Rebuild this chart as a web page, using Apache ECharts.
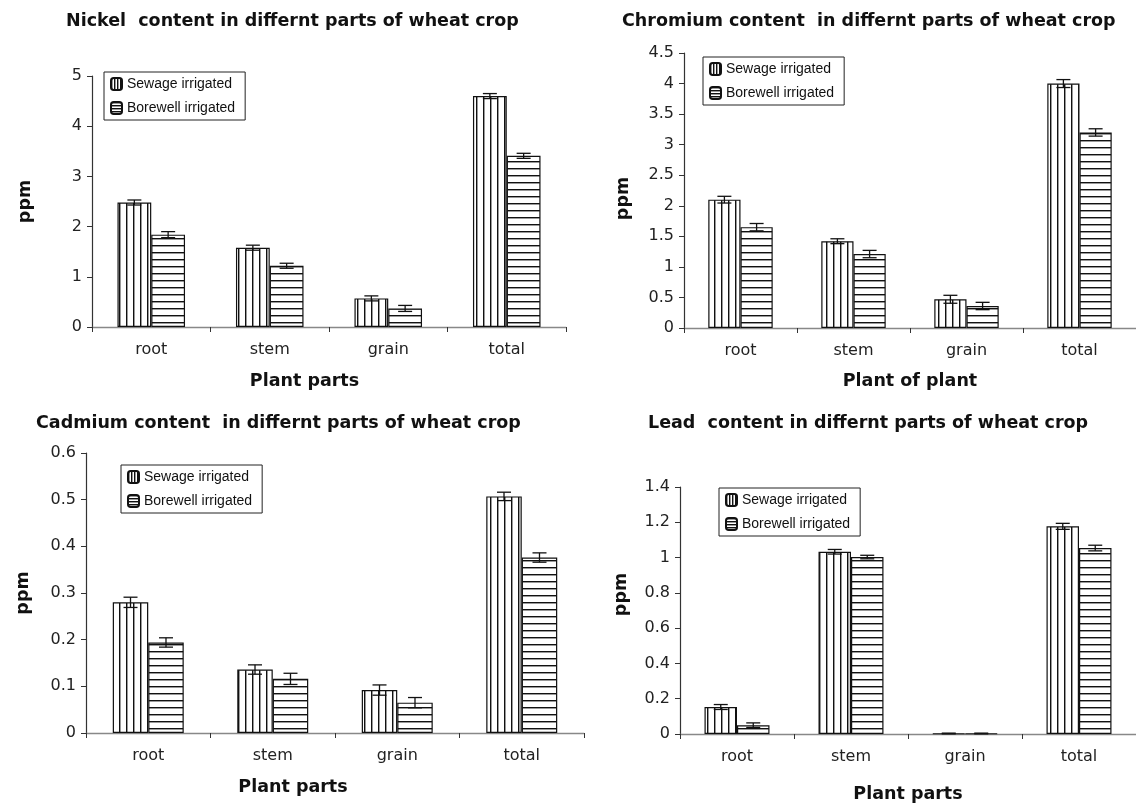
<!DOCTYPE html>
<html>
<head>
<meta charset="utf-8">
<title>Heavy metal content in wheat crop</title>
<script src="https://cdn.jsdelivr.net/npm/echarts@6/dist/echarts.min.js"></script>
<style>
    html, body { margin: 0; padding: 0; background: #fff; }
    #main { width: 1136px; height: 805px; }
</style>
</head>
<body>
<div id="main"></div>
<script>
    var categories = ['root', 'stem', 'grain', 'total'];
    var seriesNames = ['Sewage irrigated', 'Borewell irrigated'];

    // Nickel
    var nickelSewage = [2.48, 1.58, 0.57, 4.60];
    var nickelBorewell = [1.84, 1.22, 0.37, 3.41];
    var nickelSewageErr = [0.05, 0.05, 0.05, 0.05];
    var nickelBorewellErr = [0.06, 0.05, 0.06, 0.05];
    var nickelTicks = [0, 5, 1];

    // Chromium
    var chromSewage = [2.10, 1.42, 0.47, 4.00];
    var chromBorewell = [1.65, 1.21, 0.36, 3.20];
    var chromSewageErr = [0.055, 0.04, 0.065, 0.065];
    var chromBorewellErr = [0.06, 0.06, 0.06, 0.06];
    var chromTicks = [0, 4.5, 0.5];

    // Cadmium
    var cadSewage = [0.280, 0.136, 0.092, 0.507];
    var cadBorewell = [0.194, 0.116, 0.065, 0.376];
    var cadSewageErr = [0.011, 0.010, 0.011, 0.009];
    var cadBorewellErr = [0.010, 0.012, 0.011, 0.010];
    var cadTicks = [0, 0.6, 0.1];

    // Lead
    var leadSewage = [0.153, 1.033, 0.003, 1.177];
    var leadBorewell = [0.050, 1.003, 0.003, 1.054];
    var leadSewageErr = [0.014, 0.013, 0.002, 0.017];
    var leadBorewellErr = [0.013, 0.010, 0.002, 0.016];
    var leadTicks = [0, 1.4, 0.2];

    var FONT = 'DejaVu Sans, sans-serif';
    var LEGEND_FONT = 'Liberation Sans, Arial, sans-serif';
    var BAR = 0.285;

    function stripes(vertical, step) {
        var c = document.createElement('canvas');
        c.width = vertical ? step : 4;
        c.height = vertical ? 4 : step;
        var ctx = c.getContext('2d');
        ctx.fillStyle = '#fff';
        ctx.fillRect(0, 0, c.width, c.height);
        ctx.fillStyle = '#111';
        if (vertical) ctx.fillRect(0, 0, 1, c.height); else ctx.fillRect(0, 0, c.width, 1);
        ctx.fillStyle = '#999';
        if (vertical) ctx.fillRect(1, 0, 1, c.height); else ctx.fillRect(0, 1, c.width, 1);
        return { image: c, repeat: 'repeat' };
    }
    var vFill = stripes(true, 7), hFill = stripes(false, 7);
    var vIcon = stripes(true, 3), hIcon = stripes(false, 3);

    var panels = [
        { title: 'Nickel  content in differnt parts of wheat crop', xName: 'Plant parts',
          s: nickelSewage, b: nickelBorewell, se: nickelSewageErr, be: nickelBorewellErr, ticks: nickelTicks,
          grid: { left: 92, top: 76, width: 474, height: 251 }, titlePos: [66, 12], legendPos: [104, 72],
          xGap: 45, xShift: 49, yGap: 58, yShift: 0 },
        { title: 'Chromium content  in differnt parts of wheat crop', xName: 'Plant of plant',
          s: chromSewage, b: chromBorewell, se: chromSewageErr, be: chromBorewellErr, ticks: chromTicks,
          grid: { left: 684, top: 53, width: 457, height: 275 }, titlePos: [622, 12], legendPos: [703, 57],
          xGap: 44, xShift: 0, yGap: 52, yShift: -16 },
        { title: 'Cadmium content  in differnt parts of wheat crop', xName: 'Plant parts',
          s: cadSewage, b: cadBorewell, se: cadSewageErr, be: cadBorewellErr, ticks: cadTicks,
          grid: { left: 86, top: 453, width: 498, height: 280 }, titlePos: [36, 414], legendPos: [121, 465],
          xGap: 45, xShift: 84, yGap: 54, yShift: 0 },
        { title: 'Lead  content in differnt parts of wheat crop', xName: 'Plant parts',
          s: leadSewage, b: leadBorewell, se: leadSewageErr, be: leadBorewellErr, ticks: leadTicks,
          grid: { left: 680, top: 487, width: 463, height: 247 }, titlePos: [648, 414], legendPos: [719, 488],
          xGap: 51, xShift: 0, yGap: 50, yShift: 32 }
    ];

    function errorBars(params, api) {
        var x = api.value(0), v = api.value(1), e = api.value(2), side = api.value(3);
        var bw = api.size([1, 0])[0] * BAR;
        var cx = api.coord([x, v])[0] + side * bw / 2;
        var top = api.coord([x, v + e])[1];
        var bot = api.coord([x, v - e])[1];
        var cap = 7;
        var st = { stroke: '#111', lineWidth: 1.3 };
        return {
            type: 'group',
            children: [
                { type: 'line', shape: { x1: cx, y1: top, x2: cx, y2: bot }, style: st },
                { type: 'line', shape: { x1: cx - cap, y1: top, x2: cx + cap, y2: top }, style: st },
                { type: 'line', shape: { x1: cx - cap, y1: bot, x2: cx + cap, y2: bot }, style: st }
            ]
        };
    }

    var option = { animation: false, backgroundColor: '#fff', title: [], legend: [], grid: [], xAxis: [], yAxis: [], series: [] };

    panels.forEach(function (p, k) {
        option.title.push({
            text: p.title, left: p.titlePos[0], top: p.titlePos[1], padding: 0,
            textStyle: { fontFamily: FONT, fontSize: 17.5, fontWeight: 'bold', color: '#111' }
        });
        option.legend.push({
            orient: 'vertical', left: p.legendPos[0], top: p.legendPos[1],
            data: [
                { name: seriesNames[0], itemStyle: { color: vIcon } },
                { name: seriesNames[1], itemStyle: { color: hIcon } }
            ],
            itemWidth: 11, itemHeight: 12, itemGap: 10,
            padding: [5, 10, 5, 6],
            borderColor: '#222', borderWidth: 1, backgroundColor: '#fff',
            selectedMode: false,
            textStyle: { fontFamily: LEGEND_FONT, fontSize: 14, color: '#111' }
        });
        option.grid.push(p.grid);
        option.xAxis.push({
            type: 'category', gridIndex: k, data: categories,
            name: p.xName, nameLocation: 'middle', nameGap: p.xGap,
            nameTextStyle: { fontFamily: FONT, fontSize: 17.5, fontWeight: 'bold', color: '#111', padding: [0, p.xShift, 0, 0] },
            axisLine: { lineStyle: { color: '#888', width: 1.3 } },
            axisTick: { show: true, length: 5, lineStyle: { color: '#333' } },
            axisLabel: { fontFamily: FONT, fontSize: 16, color: '#222', margin: 15 }
        });
        option.yAxis.push({
            type: 'value', gridIndex: k, min: p.ticks[0], max: p.ticks[1], interval: p.ticks[2],
            name: 'ppm', nameLocation: 'middle', nameGap: p.yGap, nameRotate: 90,
            nameTextStyle: { fontFamily: FONT, fontSize: 17.5, fontWeight: 'bold', color: '#111', padding: p.yShift > 0 ? [0, 0, 0, p.yShift] : [0, -p.yShift, 0, 0] },
            axisLine: { show: true, lineStyle: { color: '#333', width: 1.2 } },
            axisTick: { show: true, length: 5, lineStyle: { color: '#333' } },
            axisLabel: { fontFamily: FONT, fontSize: 16, color: '#222', margin: 10 },
            splitLine: { show: false }
        });
        option.series.push({
            name: seriesNames[0], type: 'bar', xAxisIndex: k, yAxisIndex: k,
            data: p.s, barWidth: (BAR * 100) + '%', barGap: '0%',
            itemStyle: { color: vFill, borderColor: '#111', borderWidth: 1.2 }
        });
        option.series.push({
            name: seriesNames[1], type: 'bar', xAxisIndex: k, yAxisIndex: k,
            data: p.b, barWidth: (BAR * 100) + '%', barGap: '0%',
            itemStyle: { color: hFill, borderColor: '#111', borderWidth: 1.2 }
        });
        var errData = [];
        for (var i = 0; i < categories.length; i++) {
            errData.push([i, p.s[i], p.se[i], -1]);
            errData.push([i, p.b[i], p.be[i], 1]);
        }
        option.series.push({
            type: 'custom', xAxisIndex: k, yAxisIndex: k, z: 10, silent: true,
            encode: { x: 0, y: 1 }, data: errData, renderItem: errorBars
        });
    });

    var myChart = echarts.init(document.getElementById('main'));
    myChart.setOption(option);
</script>
</body>
</html>
